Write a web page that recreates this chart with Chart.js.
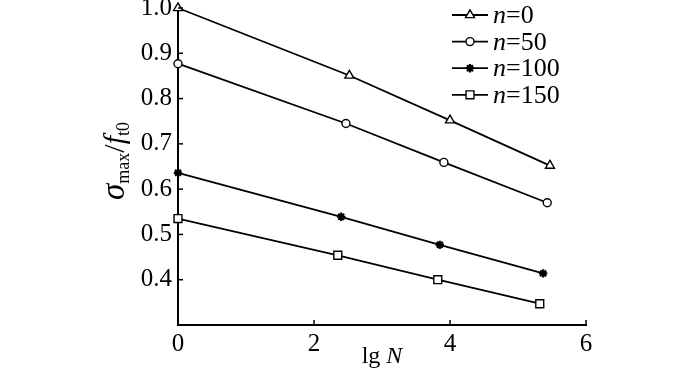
<!DOCTYPE html>
<html>
<head>
<meta charset="utf-8">
<script src="https://cdn.jsdelivr.net/npm/chart.js@4.4.1/dist/chart.umd.min.js"></script>
<style>
  html, body { margin: 0; padding: 0; background: #fff; }
  #wrap { width: 700px; height: 372px; position: relative; }
  .preload { position: absolute; left: -1000px; font-family: "Liberation Serif"; }
</style>
</head>
<body>
<div id="wrap"><canvas id="fatigueChart"></canvas></div>
<span class="preload">0.9 <i>n</i>=150</span>
<script>
// values (lg N, sigma_max / f_t0)
const seriesLabels = ['0', '50', '100', '150'];
const lgN0 = [0, 2.52, 4.00, 5.47];
const sig0 = [1.000, 0.851, 0.752, 0.652];
const lgN50 = [0, 2.47, 3.91, 5.43];
const sig50 = [0.877, 0.745, 0.659, 0.570];
const lgN100 = [0, 2.40, 3.85, 5.37];
const sig100 = [0.636, 0.539, 0.477, 0.414];
const lgN150 = [0, 2.35, 3.82, 5.32];
const sig150 = [0.535, 0.454, 0.400, 0.347];
const xTicks = [0, 2, 4, 6];
const yTicks = [0.4, 0.5, 0.6, 0.7, 0.8, 0.9, 1.0];

const serif = '"Liberation Serif"';

function pts(xs, ys) {
    return xs.map((x, i) => ({ x: x, y: ys[i] }));
}

function series(label, xs, ys, style, radius, fill) {
    return {
        label: label,
        data: pts(xs, ys),
        borderColor: '#000',
        borderWidth: 1.8,
        pointStyle: style,
        pointRadius: radius,
        pointBorderColor: '#000',
        pointBorderWidth: style === 'star' ? 2.2 : 1.4,
        pointBackgroundColor: fill,
        tension: 0,
        clip: false
    };
}

// draw a run of text pieces with mixed styles
function drawPieces(ctx, pieces, x, y, align) {
    let total = 0;
    pieces.forEach(p => {
        ctx.font = p.font;
        p.w = ctx.measureText(p.t).width;
        total += p.w;
    });
    let cx = align === 'center' ? x - total / 2 : x;
    pieces.forEach(p => {
        ctx.font = p.font;
        ctx.fillText(p.t, cx, y + (p.dy || 0));
        cx += p.w;
    });
}

// inward tick marks, axis titles and the legend
const extras = {
    id: 'extras',
    afterDraw(chart) {
        const ctx = chart.ctx;
        const xs = chart.scales.x, ys = chart.scales.y;
        const area = chart.chartArea;
        ctx.save();
        ctx.strokeStyle = '#000';
        ctx.lineWidth = 1.5;
        xTicks.slice(1).forEach(v => {
            const px = xs.getPixelForValue(v);
            ctx.beginPath();
            ctx.moveTo(px, area.bottom);
            ctx.lineTo(px, area.bottom - 5);
            ctx.stroke();
        });
        yTicks.forEach(v => {
            const py = ys.getPixelForValue(v);
            ctx.beginPath();
            ctx.moveTo(area.left, py);
            ctx.lineTo(area.left + 5, py);
            ctx.stroke();
        });

        ctx.fillStyle = '#000';
        ctx.textBaseline = 'alphabetic';

        // x title
        drawPieces(ctx, [
            { t: 'lg ', font: '24px ' + serif },
            { t: 'N', font: 'italic 24px ' + serif }
        ], (area.left + area.right) / 2, 363, 'center');

        // y title
        ctx.save();
        ctx.translate(124, 161);
        ctx.rotate(-Math.PI / 2);
        drawPieces(ctx, [
            { t: 'σ', font: 'italic 33px ' + serif },
            { t: 'max', font: '18px ' + serif, dy: 5 },
            { t: '/', font: '30px ' + serif },
            { t: 'f', font: 'italic 30px ' + serif },
            { t: 't0', font: '18px ' + serif, dy: 5 }
        ], 0, 0, 'center');
        ctx.restore();

        // legend
        chart.data.datasets.forEach((ds, i) => {
            const y = 15 + i * 26.6;
            ctx.strokeStyle = '#000';
            ctx.lineWidth = 1.8;
            ctx.beginPath();
            ctx.moveTo(452, y);
            ctx.lineTo(488, y);
            ctx.stroke();
            ctx.fillStyle = ds.pointBackgroundColor;
            ctx.lineWidth = ds.pointBorderWidth;
            Chart.helpers.drawPoint(ctx, {
                pointStyle: ds.pointStyle,
                radius: ds.pointRadius,
                borderWidth: ds.pointBorderWidth
            }, 470, y);
            ctx.fillStyle = '#000';
            drawPieces(ctx, [
                { t: 'n', font: 'italic 26px ' + serif },
                { t: '=' + seriesLabels[i], font: '26px ' + serif }
            ], 493, y + 8, 'left');
        });
        ctx.restore();
    }
};

function build() {
    new Chart(document.getElementById('fatigueChart').getContext('2d'), {
        type: 'line',
        data: {
            datasets: [
                series('n=0', lgN0, sig0, 'triangle', 5.2, '#fff'),
                series('n=50', lgN50, sig50, 'circle', 4, '#fff'),
                series('n=100', lgN100, sig100, 'star', 4.2, '#000'),
                series('n=150', lgN150, sig150, 'rect', 5.6, '#fff')
            ]
        },
        options: {
            responsive: true,
            maintainAspectRatio: false,
            animation: false,
            layout: { padding: { left: 0, right: 114, top: 8, bottom: 0 } },
            plugins: {
                legend: { display: false },
                tooltip: { enabled: false }
            },
            scales: {
                x: {
                    type: 'linear',
                    min: 0,
                    max: 6,
                    afterBuildTicks: axis => { axis.ticks = xTicks.map(v => ({ value: v })); },
                    afterFit: axis => {
                        axis.height = 47;
                        axis.paddingLeft = 0;
                        axis.paddingRight = 0;
                    },
                    grid: { display: false, drawTicks: false },
                    border: { display: true, color: '#000', width: 2 },
                    ticks: {
                        color: '#000',
                        padding: 4,
                        font: { family: serif, size: 25 }
                    }
                },
                y: {
                    type: 'linear',
                    min: 0.3,
                    max: 1.0,
                    afterBuildTicks: axis => { axis.ticks = yTicks.map(v => ({ value: v })); },
                    afterFit: axis => {
                        axis.width = 178;
                        axis.paddingTop = 0;
                        axis.paddingBottom = 0;
                    },
                    grid: { display: false, drawTicks: false },
                    border: { display: true, color: '#000', width: 2 },
                    ticks: {
                        color: '#000',
                        padding: 6,
                        font: { family: serif, size: 25 },
                        callback: v => v.toFixed(1)
                    }
                }
            }
        },
        plugins: [extras]
    });
}

document.fonts.load('25px "Liberation Serif"').then(build, build);
</script>
</body>
</html>
